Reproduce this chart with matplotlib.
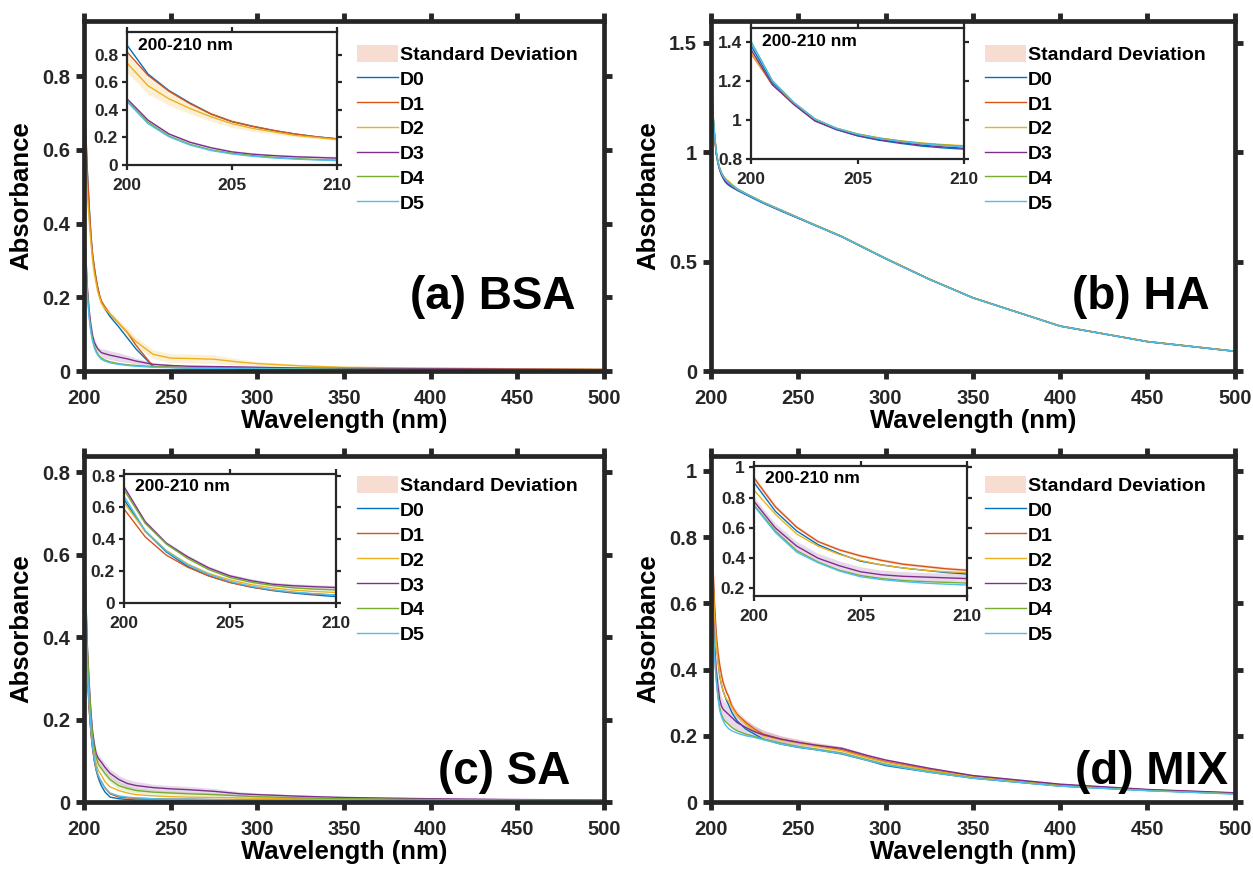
import numpy as np
import matplotlib.pyplot as plt
from matplotlib.patches import Patch
from matplotlib.ticker import FuncFormatter

plt.rcParams['font.family'] = ['Liberation Sans', 'DejaVu Sans']
plt.rcParams['font.weight'] = 'bold'

# wavelength grid (nm)
wl = [200, 201, 202, 203, 204, 205, 206, 207, 208, 209, 210, 212, 215, 220, 225,
      230, 240, 250, 260, 275, 290, 300, 325, 350, 400, 450, 500]

labels = ['D0', 'D1', 'D2', 'D3', 'D4', 'D5']
colors = ['#0072BD', '#D95319', '#EDB120', '#7E2F8E', '#77AC30', '#4DBEEE']

# ---- (a) BSA ----
bsa_d0 = [.87, .66, .54, .45, .37, .315, .28, .25, .225, .205, .19, .17, .148, .12, .09,
          .06, .012, .01, .009, .008, .007, .006, .005, .005, .004, .003, .003]
bsa_d1 = [.82, .65, .535, .445, .37, .315, .28, .25, .225, .205, .19, .175, .155, .13, .105,
          .07, .012, .01, .009, .008, .007, .006, .005, .005, .004, .003, .003]
bsa_d2 = [.74, .575, .48, .41, .35, .30, .265, .24, .215, .20, .185, .17, .155, .13, .105,
          .08, .045, .035, .034, .032, .024, .02, .014, .01, .008, .006, .005]
bsa_d3 = [.48, .325, .225, .165, .125, .095, .078, .068, .06, .055, .05, .047, .043, .038, .033,
          .027, .018, .015, .013, .012, .011, .01, .008, .007, .006, .005, .004]
bsa_d4 = [.47, .31, .21, .15, .11, .085, .068, .056, .047, .04, .036, .03, .025, .02, .017,
          .015, .012, .01, .009, .008, .007, .007, .006, .005, .004, .003, .003]
bsa_d5 = [.46, .30, .205, .145, .105, .08, .063, .051, .043, .037, .032, .027, .022, .018, .015,
          .013, .01, .009, .008, .007, .006, .006, .005, .004, .003, .003, .002]
bsa_sd2 = [.07, .06, .05, .04, .035, .03, .025, .02, .015, .012, .01, .01, .01, .01, .012,
           .012, .012, .012, .012, .012, .008, .006, .004, .003, .002, .002, .002]
bsa_sd3 = [.01, .008, .008, .008, .008, .008, .008, .008, .008, .008, .01, .012, .012, .012, .01,
           .008, .005, .003, .003, .003, .003, .003, .003, .003, .003, .003, .003]

# ---- (b) HA ----
ha_d0 = [1.38, 1.19, 1.08, .995, .95, .918, .896, .88, .866, .857, .85, .84, .826, .806, .786,
         .767, .732, .698, .664, .613, .553, .513, .419, .334, .205, .134, .09]
ha_d1 = [1.34, 1.18, 1.085, 1.0, .955, .925, .905, .89, .879, .871, .865, .85, .832, .81, .79,
         .77, .735, .70, .666, .615, .555, .515, .42, .335, .206, .135, .091]
ha_d2 = [1.34, 1.18, 1.085, 1.0, .957, .928, .908, .893, .882, .874, .868, .853, .834, .812, .792,
         .772, .737, .702, .667, .616, .556, .516, .421, .336, .206, .135, .091]
ha_d3 = [1.36, 1.18, 1.08, .995, .952, .92, .899, .884, .871, .862, .855, .843, .828, .808, .788,
         .768, .733, .699, .665, .614, .554, .514, .42, .335, .205, .134, .09]
ha_d4 = [1.40, 1.2, 1.09, 1.005, .958, .928, .907, .892, .88, .871, .865, .851, .832, .811, .791,
         .771, .736, .701, .666, .615, .555, .515, .42, .335, .205, .135, .09]
ha_d5 = [1.40, 1.2, 1.09, 1.005, .957, .926, .905, .89, .878, .869, .862, .849, .831, .81, .79,
         .77, .735, .70, .665, .614, .554, .514, .419, .334, .205, .134, .09]

# ---- (c) SA ----
sa_d0 = [.65, .45, .32, .23, .17, .13, .10, .078, .062, .05, .04, .025, .012, .008, .006,
         .005, .005, .004, .004, .004, .003, .003, .003, .003, .002, .002, .002]
sa_d1 = [.59, .415, .30, .225, .17, .128, .10, .08, .066, .056, .05, .035, .02, .012, .01,
         .009, .008, .007, .007, .006, .006, .005, .005, .004, .003, .003, .002]
sa_d2 = [.63, .45, .33, .245, .185, .145, .115, .095, .08, .072, .066, .05, .037, .028, .022,
         .018, .015, .013, .012, .011, .01, .009, .008, .007, .005, .004, .003]
sa_d3 = [.73, .51, .375, .29, .22, .17, .14, .118, .108, .102, .097, .085, .07, .055, .045,
         .04, .035, .032, .03, .026, .02, .018, .014, .011, .008, .006, .005]
sa_d4 = [.71, .50, .37, .28, .21, .16, .13, .11, .095, .087, .082, .07, .055, .04, .033,
         .028, .024, .022, .02, .018, .015, .013, .01, .008, .006, .005, .004]
sa_d5 = [.67, .455, .325, .24, .18, .135, .105, .083, .068, .058, .05, .035, .022, .015, .012,
         .01, .008, .007, .007, .006, .005, .005, .004, .004, .003, .002, .002]
sa_sd3 = [.01, .01, .01, .01, .01, .01, .01, .01, .01, .01, .01, .01, .01, .01, .01,
          .01, .008, .008, .008, .007, .005, .004, .003, .003, .002, .002, .002]
sa_sd4 = [.008, .008, .008, .008, .008, .008, .008, .008, .008, .008, .008, .008, .008, .008, .007,
          .006, .005, .005, .005, .004, .004, .003, .003, .002, .002, .002, .002]

# ---- (d) MIX ----
mix_d0 = [.90, .71, .58, .49, .43, .38, .355, .335, .32, .305, .295, .27, .245, .22, .205,
          .19, .175, .165, .158, .145, .125, .11, .09, .072, .048, .035, .025]
mix_d1 = [.93, .74, .605, .51, .455, .415, .385, .36, .345, .33, .32, .29, .265, .24, .22,
          .205, .19, .18, .17, .158, .135, .122, .098, .078, .052, .037, .027]
mix_d2 = [.85, .69, .56, .48, .425, .385, .355, .335, .32, .31, .305, .285, .26, .235, .215,
          .20, .188, .178, .168, .155, .133, .12, .096, .076, .05, .036, .026]
mix_d3 = [.775, .60, .48, .40, .35, .31, .29, .28, .275, .27, .265, .255, .24, .225, .212,
          .203, .19, .18, .172, .162, .14, .127, .102, .08, .054, .038, .028]
mix_d4 = [.75, .58, .45, .375, .32, .285, .265, .252, .245, .24, .235, .225, .215, .205, .198,
          .19, .178, .168, .16, .148, .127, .114, .092, .073, .049, .035, .025]
mix_d5 = [.745, .57, .44, .37, .315, .277, .258, .245, .235, .228, .222, .215, .208, .20, .195,
          .188, .175, .166, .158, .146, .125, .113, .09, .072, .048, .034, .024]
mix_sd1 = [.02, .015, .012, .01, .01, .01, .01, .01, .01, .01, .01, .01, .01, .01, .01,
           .01, .01, .01, .01, .01, .008, .006, .005, .004, .003, .002, .002]
mix_sd3 = [.03, .03, .03, .03, .03, .03, .028, .028, .027, .027, .026, .026, .025, .022, .018,
           .015, .01, .008, .006, .005, .004, .004, .003, .003, .002, .002, .002]

panels = [
    dict(data=[bsa_d0, bsa_d1, bsa_d2, bsa_d3, bsa_d4, bsa_d5], sd={2: bsa_sd2, 3: bsa_sd3},
         name='(a) BSA', ylim=(0, 0.95), yticks=[0, 0.2, 0.4, 0.6, 0.8],
         iylim=(0, 0.965), iyticks=[0, 0.2, 0.4, 0.6, 0.8],
         pos=[0.067, 0.576, 0.415, 0.400], ipos=[0.1014, 0.8114, 0.1676, 0.152],
         leg=(0.2849, 0.949), lab=(0.459, 0.6606)),
    dict(data=[ha_d0, ha_d1, ha_d2, ha_d3, ha_d4, ha_d5], sd={},
         name='(b) HA', ylim=(0, 1.6), yticks=[0, 0.5, 1, 1.5],
         iylim=(0.8, 1.47), iyticks=[0.8, 1, 1.2, 1.4],
         pos=[0.5674, 0.576, 0.418, 0.400], ipos=[0.5994, 0.8183, 0.170, 0.1497],
         leg=(0.786, 0.949), lab=(0.9657, 0.6606)),
    dict(data=[sa_d0, sa_d1, sa_d2, sa_d3, sa_d4, sa_d5], sd={3: sa_sd3, 4: sa_sd4},
         name='(c) SA', ylim=(0, 0.84), yticks=[0, 0.2, 0.4, 0.6, 0.8],
         iylim=(0, 0.81), iyticks=[0, 0.2, 0.4, 0.6, 0.8],
         pos=[0.067, 0.0834, 0.415, 0.3955], ipos=[0.099, 0.3109, 0.169, 0.1474],
         leg=(0.2849, 0.456), lab=(0.455, 0.1177)),
    dict(data=[mix_d0, mix_d1, mix_d2, mix_d3, mix_d4, mix_d5], sd={1: mix_sd1, 3: mix_sd3},
         name='(d) MIX', ylim=(0, 1.045), yticks=[0, 0.2, 0.4, 0.6, 0.8, 1],
         iylim=(0.15, 1.01), iyticks=[0.2, 0.4, 0.6, 0.8, 1],
         pos=[0.5674, 0.0834, 0.418, 0.3955], ipos=[0.6018, 0.3189, 0.170, 0.1486],
         leg=(0.786, 0.456), lab=(0.980, 0.1177)),
]

fmt = FuncFormatter(lambda v, p: '%g' % v)
edge = '#262626'
x = np.array(wl)

fig = plt.figure(figsize=(12.53, 8.75), dpi=100)

for p in panels:
    ax = fig.add_axes(p['pos'])
    ins = fig.add_axes(p['ipos'])
    for a in (ax, ins):
        for i, y in enumerate(p['data']):
            y = np.array(y)
            if i in p['sd']:
                s = np.array(p['sd'][i])
                a.fill_between(x, y - s, y + s, color=colors[i], alpha=0.18, lw=0)
        for i, y in enumerate(p['data']):
            a.plot(x, y, color=colors[i], lw=1.0, label=labels[i])

    # main axes
    ax.set_xlim(200, 500)
    ax.set_ylim(*p['ylim'])
    ax.set_xticks([200, 250, 300, 350, 400, 450, 500])
    ax.set_yticks(p['yticks'])
    ax.yaxis.set_major_formatter(fmt)
    ax.tick_params(direction='out', length=6, width=3.5, top=True, right=True,
                   labelsize=14.5, colors=edge, labelcolor='#262626')
    ax.tick_params(axis='x', pad=7)
    ax.tick_params(axis='y', pad=4)
    for sp in ax.spines.values():
        sp.set_linewidth(3.4)
        sp.set_color(edge)
    ax.set_xlabel('Wavelength (nm)', fontsize=18.5, fontweight='bold', labelpad=1)
    ax.set_ylabel('Absorbance', fontsize=18.5, fontweight='bold', labelpad=6)

    # inset
    ins.set_xlim(200, 210)
    ins.set_ylim(*p['iylim'])
    ins.set_xticks([200, 205, 210])
    ins.set_yticks(p['iyticks'])
    ins.yaxis.set_major_formatter(fmt)
    ins.tick_params(direction='out', length=3.5, width=1.6, top=True, right=True,
                    labelsize=12.5, colors=edge, labelcolor='#262626')
    ins.tick_params(axis='x', pad=6)
    ins.tick_params(axis='y', pad=3)
    for sp in ins.spines.values():
        sp.set_linewidth(1.6)
        sp.set_color(edge)
    ins.text(0.05, 0.9, '200-210 nm', transform=ins.transAxes, fontsize=12.5,
             fontweight='bold', va='center', ha='left')

    # legend
    handles = [Patch(facecolor='#D95319', alpha=0.2, lw=0)]
    handles += [plt.Line2D([], [], color=c, lw=1.0) for c in colors]
    ax.legend(handles, ['Standard Deviation'] + labels, loc='upper left',
              bbox_to_anchor=p['leg'], bbox_transform=fig.transFigure,
              frameon=False, prop={'weight': 'bold', 'size': 14},
              handlelength=2.1, handleheight=1.0, handletextpad=0.12,
              labelspacing=0.28, borderpad=0, borderaxespad=0)

    fig.text(p['lab'][0], p['lab'][1], p['name'], fontsize=33, fontweight='bold',
             ha='right', va='center')

plt.savefig('out.png', dpi=100)
